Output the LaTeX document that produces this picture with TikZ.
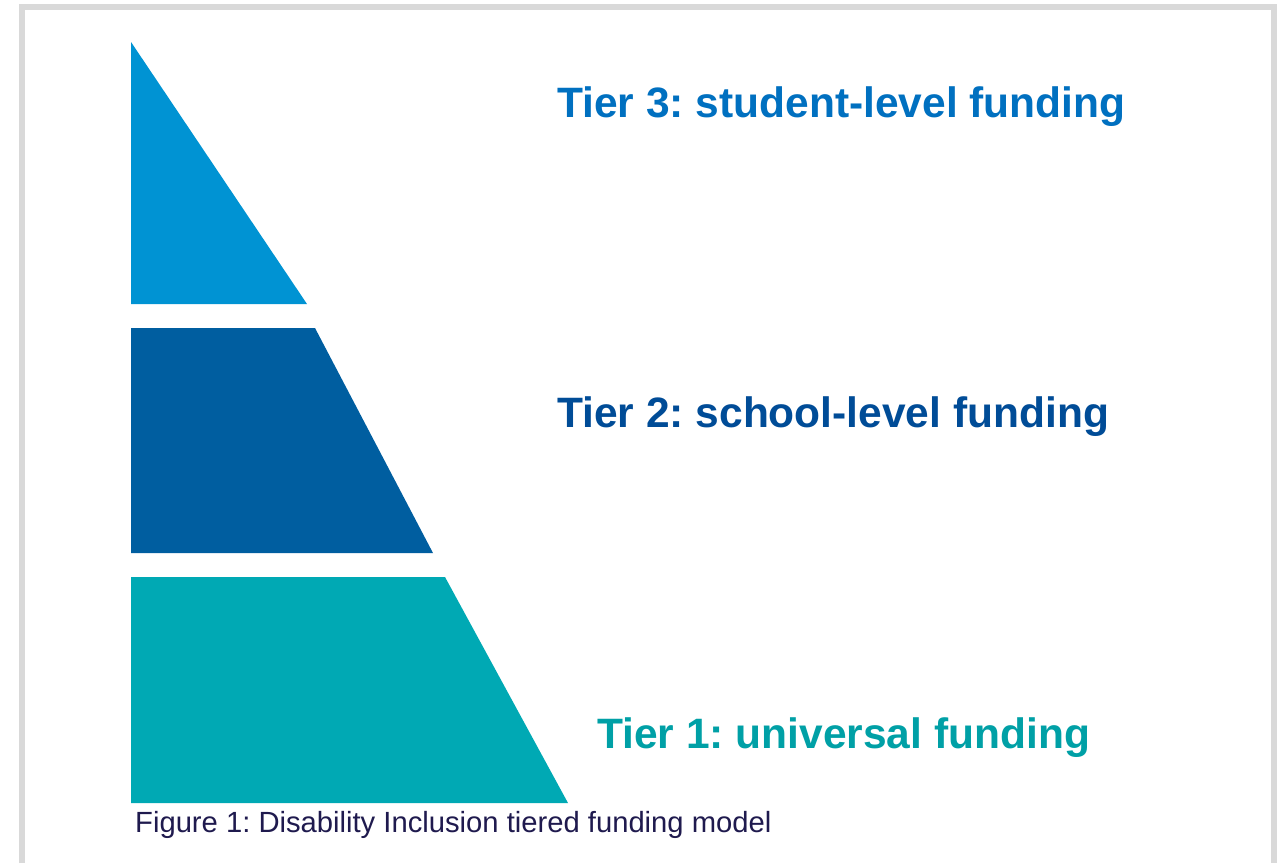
\documentclass[tikz,border=0pt]{standalone}
\usepackage{fontspec}
\setmainfont{Liberation Sans}
\frenchspacing
\definecolor{frame}{HTML}{D9D9D9}
\definecolor{tthree}{HTML}{0093D3}
\definecolor{ttwo}{HTML}{005EA0}
\definecolor{tone}{HTML}{00A9B4}
\definecolor{lthree}{HTML}{0070C0}
\definecolor{ltwo}{HTML}{004C97}
\definecolor{lone}{HTML}{00A0A6}
\definecolor{capcol}{HTML}{1F1A4E}
\tikzset{
  tierlabel/.style={anchor=base west, inner sep=0pt, font=\fontsize{42.5}{50}\selectfont\bfseries},
  caption/.style={anchor=base west, inner sep=0pt, text=capcol, font=\fontsize{29.2}{33}\selectfont},
}
\begin{document}
\begin{tikzpicture}[x=1pt,y=-1pt]
\useasboundingbox (0,0) rectangle (1286,863);
\fill[white] (0,0) rectangle (1286,863);
% frame
\draw[frame, line width=6pt] (22,863) -- (22,6.5) -- (1274,6.5) -- (1274,863);
% pyramid tiers
\fill[tthree] (131,42) -- (307,304) -- (131,304) -- cycle;
\fill[ttwo] (131,328) -- (315,328) -- (433,553) -- (131,553) -- cycle;
\fill[tone] (131,577) -- (445,577) -- (568,803) -- (131,803) -- cycle;
% labels
\node[tierlabel, text=lthree] (t3) at (557,117) {Tier 3: student-level funding};
\node[tierlabel, text=ltwo] (t2) at (557,427) {Tier 2: school-level funding};
\node[tierlabel, text=lone] (t1) at (597,748) {Tier 1: universal funding};
\node[caption] (cap) at (135,832) {Figure 1: Disability Inclusion tiered funding model};
\end{tikzpicture}
\end{document}
